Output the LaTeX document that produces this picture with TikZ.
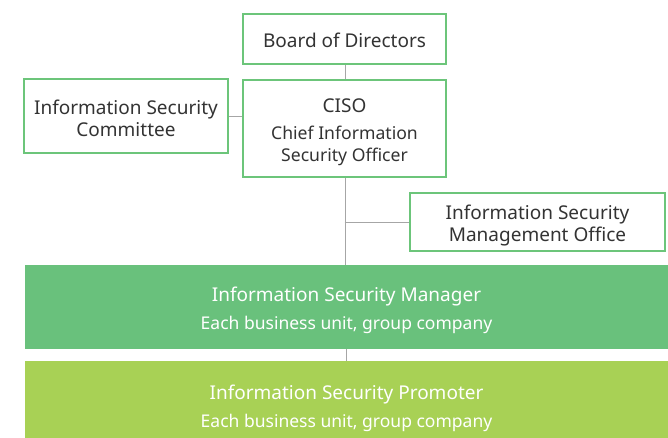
\documentclass[tikz,border=0pt]{standalone}
\usepackage{fontspec}
\setmainfont{Noto Sans}
\definecolor{boxgreen}{HTML}{6CC57A}
\definecolor{mgrgreen}{HTML}{69C17C}
\definecolor{progreen}{HTML}{A8D155}
\definecolor{linegray}{HTML}{A6A6A6}
\definecolor{txt}{HTML}{333333}
\begin{document}
\begin{tikzpicture}[x=1pt,y=-1pt,
  obox/.style={draw=boxgreen,line width=2pt,fill=white,inner sep=0pt},
  otext/.style={text=txt,align=center,inner sep=0pt,font=\fontsize{19}{22}\selectfont},
  band/.style={draw=none,inner sep=0pt},
  btext/.style={text=white,align=center,inner sep=0pt,font=\fontsize{19}{28}\selectfont},
  conn/.style={draw=linegray,line width=1pt}]
\useasboundingbox (0,0) rectangle (668,438);
\draw[conn] (345,64) -- (345,265);
\node[obox,minimum width=203pt,minimum height=50pt] (board) at (344.5,39) {};
\node[otext] (boardt) at ([yshift=-1pt]board.center) {Board of Directors};
\node[obox,minimum width=203pt,minimum height=97pt] (ciso) at (344.5,128.5) {};
\node[otext] (cisot) at ([yshift=-4pt]ciso.center) {CISO\\[5pt]{\fontsize{17.6}{21}\selectfont Chief Information}\\{\fontsize{17.6}{21}\selectfont Security Officer}};
\node[obox,minimum width=204pt,minimum height=74pt] (comm) at (126,116.5) {};
\node[otext] (commt) at ([yshift=-2pt]comm.center) {Information Security\\Committee};
\node[obox,minimum width=255pt,minimum height=58pt] (office) at (537.5,222) {};
\node[otext] (officet) at ([yshift=-4pt]office.center) {Information Security\\Management Office};
\node[band,fill=mgrgreen,minimum width=643pt,minimum height=84pt] (mgr) at (346.5,307) {};
\node[btext] (mgrt) at ([yshift=-3pt]mgr.center) {Information Security Manager\\{\fontsize{17.5}{17.5}\selectfont Each business unit, group company}};
\node[band,fill=progreen,minimum width=643pt,minimum height=89pt] (pro) at (346.5,405.5) {};
\node[btext] (prot) at ([yshift=-2.5pt]pro.center) {Information Security Promoter\\{\fontsize{17.5}{17.5}\selectfont Each business unit, group company}};
\draw[conn] (comm.east) -- (comm.east -| ciso.west);
\draw[conn] (office.west -| ciso.south) -- (office.west);
\draw[conn] (mgr.south) -- (pro.north);
\end{tikzpicture}
\end{document}
